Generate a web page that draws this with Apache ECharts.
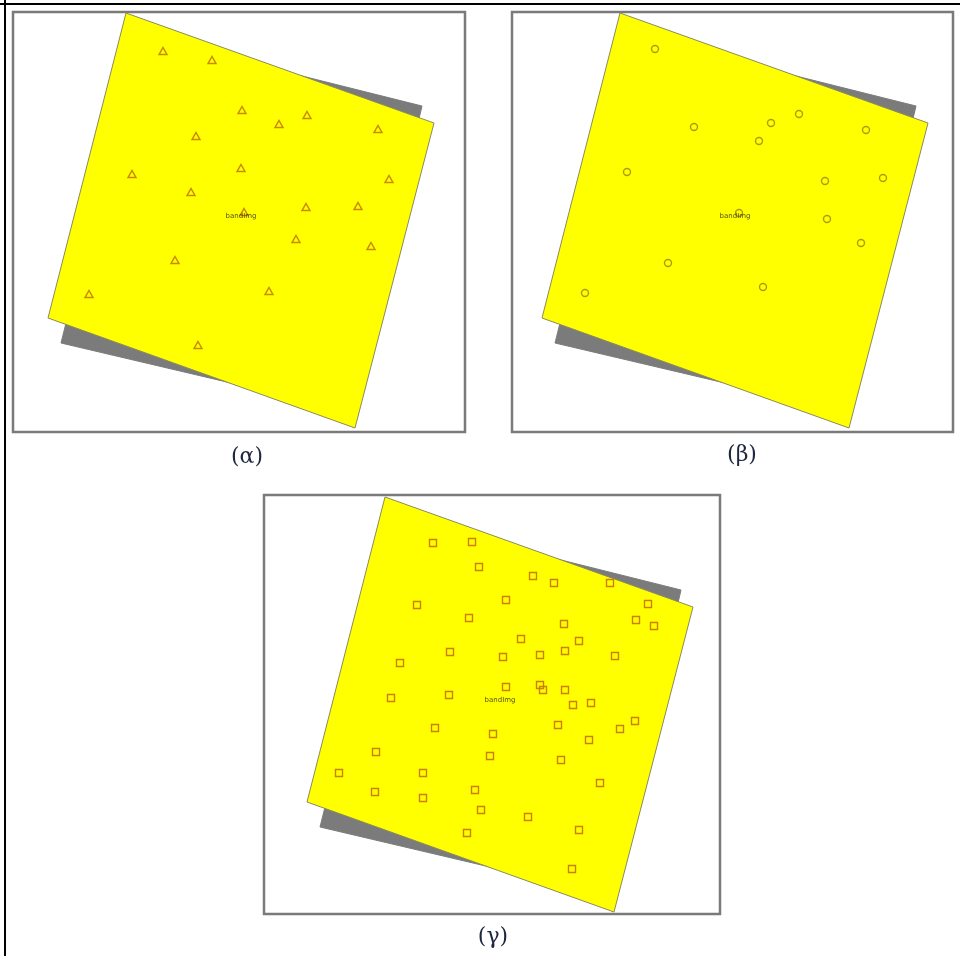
<!DOCTYPE html>
<html>
<head>
<meta charset="utf-8">
<script src="https://cdn.jsdelivr.net/npm/echarts@6/dist/echarts.min.js"></script>
<style>
html,body{margin:0;padding:0;background:#fff;}
#chart{width:960px;height:956px;}
</style>
</head>
<body>
<div id="chart"></div>
<script>
// ---- data (map units, shared by the three panels) ----
const panelLabels = ['(α)', '(β)', '(γ)'];
// image footprint (yellow) and the grey footprint behind it: x1,y1,...,x4,y4
const footprintShadow = [125, 23, 409, 94, 337, 399, 48, 331];
const footprintImage  = [113, 1, 421, 111, 342, 416, 35, 306];
const bandLabel = 'bandImg';
const bandLabelPos = [228, 204];

// (α) triangle points
const trianglePts = [
  [150, 39], [199, 48], [229, 98], [294, 103], [266, 112], [365, 117],
  [183, 124], [228, 156], [119, 162], [376, 167], [178, 180], [293, 195],
  [345, 194], [231, 200], [283, 227], [358, 234], [162, 248], [76, 282],
  [256, 279], [185, 333]
];
// (β) circle points
const circlePts = [
  [148, 37], [187, 115], [264, 111], [292, 102], [252, 129], [359, 118],
  [120, 160], [318, 169], [376, 166], [232, 201], [320, 207], [354, 231],
  [161, 251], [78, 281], [256, 275]
];
// (γ) square points
const squarePts = [
  [161, 47], [200, 46], [207, 71], [261, 80], [282, 87], [338, 87],
  [145, 109], [234, 104], [376, 108], [197, 122], [364, 124], [382, 130],
  [292, 128], [249, 143], [307, 145], [178, 156], [231, 161], [268, 159],
  [293, 155], [343, 160], [128, 167], [234, 191], [268, 189], [271, 194],
  [293, 194], [301, 209], [319, 207], [119, 202], [177, 199], [163, 232],
  [221, 238], [286, 229], [348, 233], [363, 225], [317, 244], [104, 256],
  [218, 260], [289, 264], [67, 277], [151, 277], [328, 287], [103, 296],
  [151, 302], [203, 294], [209, 314], [256, 321], [307, 334], [195, 337],
  [300, 373]
];

// axis windows of each panel (map units)
const panelXRange = [[0, 452], [5, 446], [-8, 448]];
const panelYRange = [[0, 420], [0, 420], [-1, 418]];

// ---- layout / style ----
const gridBoxes = [
  {left: 13, top: 12, width: 452, height: 420},
  {left: 512, top: 12, width: 441, height: 420},
  {left: 264, top: 495, width: 456, height: 419}
];
const labelPos = [[247, 457], [742, 455], [493, 937]];
const markerSymbols = ['triangle', 'circle', 'rect'];
const markerSizes = [[8, 7], 7, 7];
const markerColors = ['#c88a00', '#b09a10', '#cc7f0a'];
const markerSets = [trianglePts, circlePts, squarePts];
const polyFill = ['#7b7b7b', '#ffff00'];
const polyStroke = ['#7b7b7b', '#8a8a60'];

const chart = echarts.init(document.getElementById('chart'), null, {renderer: 'canvas'});

const grids = gridBoxes.map(b => Object.assign({
  show: true, borderColor: '#7a7a7a', borderWidth: 2.5, backgroundColor: '#fff'
}, b));
const xAxes = panelXRange.map((r, i) => ({
  type: 'value', gridIndex: i, min: r[0], max: r[1], show: false
}));
const yAxes = panelYRange.map((r, i) => ({
  type: 'value', gridIndex: i, min: r[0], max: r[1], inverse: true, show: false
}));

const series = [];
for (let i = 0; i < 3; i++) {
  series.push({
    type: 'custom',
    xAxisIndex: i, yAxisIndex: i,
    coordinateSystem: 'cartesian2d',
    clip: false,
    silent: true,
    encode: {x: [0, 2, 4, 6], y: [1, 3, 5, 7]},
    data: [footprintShadow, footprintImage],
    renderItem: function (params, api) {
      const pts = [];
      for (let k = 0; k < 4; k++) {
        pts.push(api.coord([api.value(2 * k), api.value(2 * k + 1)]));
      }
      return {
        type: 'polygon',
        shape: {points: pts},
        style: {fill: polyFill[params.dataIndex], stroke: polyStroke[params.dataIndex], lineWidth: 1}
      };
    },
    z: 1
  });
  series.push({
    type: 'scatter',
    xAxisIndex: i, yAxisIndex: i,
    symbol: markerSymbols[i],
    symbolSize: markerSizes[i],
    silent: true,
    itemStyle: {color: 'rgba(0,0,0,0)', borderColor: markerColors[i], borderWidth: 1.4, opacity: 1},
    data: markerSets[i],
    z: 2
  });
  series.push({
    type: 'scatter',
    xAxisIndex: i, yAxisIndex: i,
    symbolSize: 1,
    silent: true,
    itemStyle: {color: 'rgba(0,0,0,0)'},
    label: {
      show: true, position: 'inside', formatter: bandLabel,
      fontSize: 7, color: '#26261a', fontFamily: 'DejaVu Sans'
    },
    data: [bandLabelPos],
    z: 3
  });
}

const graphics = [
  {type: 'line', shape: {x1: 0, y1: 4, x2: 960, y2: 4}, style: {stroke: '#000', lineWidth: 2}},
  {type: 'line', shape: {x1: 5, y1: 0, x2: 5, y2: 956}, style: {stroke: '#000', lineWidth: 2}}
];
panelLabels.forEach((t, i) => {
  graphics.push({
    type: 'text', x: labelPos[i][0], y: labelPos[i][1],
    style: {
      text: t, fill: '#1e2640', font: '22px "DejaVu Serif"',
      textAlign: 'center', textVerticalAlign: 'middle'
    }
  });
});

chart.setOption({
  backgroundColor: '#fff',
  animation: false,
  grid: grids,
  xAxis: xAxes,
  yAxis: yAxes,
  series: series,
  graphic: graphics
});
</script>
</body>
</html>
